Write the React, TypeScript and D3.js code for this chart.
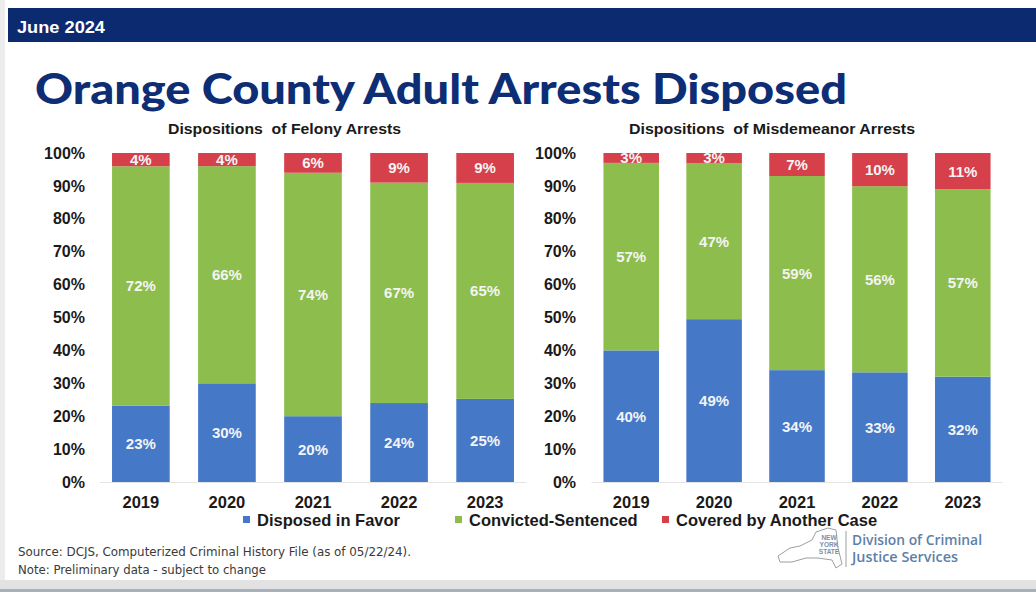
import { useEffect, useRef } from 'react';
import * as d3 from 'd3';

const years = ['2019', '2020', '2021', '2022', '2023'];
const series = ['Disposed in Favor', 'Convicted-Sentenced', 'Covered by Another Case'];
const colors = ['#4579C8', '#8DBE4D', '#D5404A'];

const felonyFavor = [23, 30, 20, 24, 25];
const felonyConvicted = [72, 66, 74, 67, 65];
const felonyCovered = [4, 4, 6, 9, 9];

const misdFavor = [40, 49, 34, 33, 32];
const misdConvicted = [57, 47, 59, 56, 57];
const misdCovered = [3, 3, 7, 10, 11];

const yTicks = [0, 0.1, 0.2, 0.3, 0.4, 0.5, 0.6, 0.7, 0.8, 0.9, 1];

const W = 1036;
const H = 592;
const FONT = 'Arial, "Liberation Sans", sans-serif';

type Panel = {
  title: string;
  values: number[][];
  range: [number, number];
  axisX: number;
  titleX: number;
  titleW: number;
};

const panels: Panel[] = [
  {
    title: 'Dispositions  of Felony Arrests',
    values: [felonyFavor, felonyConvicted, felonyCovered],
    range: [69, 557],
    axisX: 85,
    titleX: 168,
    titleW: 233,
  },
  {
    title: 'Dispositions  of Misdemeanor Arrests',
    values: [misdFavor, misdConvicted, misdCovered],
    range: [562, 1032],
    axisX: 576,
    titleX: 629,
    titleW: 286,
  },
];

export default function App() {
  const svgRef = useRef<SVGSVGElement>(null);

  useEffect(() => {
    if (!svgRef.current) return;
    const svg = d3.select(svgRef.current);
    svg.selectAll('*').remove();

    svg.append('rect').attr('width', W).attr('height', H).attr('fill', '#fff');
    // left edge and bottom frame of the slide
    svg.append('rect').attr('x', 0).attr('y', 0).attr('width', 5).attr('height', H).attr('fill', '#ececec');
    svg.append('rect').attr('x', 0).attr('y', 580).attr('width', W).attr('height', 12).attr('fill', '#e2e2e2');
    svg.append('rect').attr('x', 0).attr('y', 589).attr('width', W).attr('height', 3).attr('fill', '#a7b0bd');

    // header band
    svg.append('rect').attr('x', 8).attr('y', 8).attr('width', W - 8).attr('height', 34).attr('fill', '#0B2A70');
    svg.append('text')
      .attr('x', 17).attr('y', 33)
      .attr('fill', '#fff').attr('font-family', FONT).attr('font-weight', 700).attr('font-size', 16)
      .attr('textLength', 88).attr('lengthAdjust', 'spacingAndGlyphs')
      .text('June 2024');

    svg.append('text')
      .attr('x', 35).attr('y', 104)
      .attr('fill', '#0D2D75').attr('font-family', 'Lato, "Open Sans", sans-serif').attr('font-weight', 900)
      .attr('font-size', 42).attr('textLength', 812).attr('lengthAdjust', 'spacingAndGlyphs')
      .text('Orange County Adult Arrests Disposed');

    const y = d3.scaleLinear().domain([0, 1]).range([482, 153]);

    for (const p of panels) {
      const x = d3.scaleBand<string>().domain(years).range(p.range).paddingInner(0.33).paddingOuter(0.5);
      const g = svg.append('g');

      g.append('text')
        .attr('x', p.titleX).attr('y', 134)
        .attr('fill', '#1a1a1a').attr('font-family', FONT).attr('font-weight', 700).attr('font-size', 15.5)
        .attr('textLength', p.titleW).attr('lengthAdjust', 'spacingAndGlyphs')
        .style('white-space', 'pre')
        .text(p.title);

      g.append('g')
        .attr('transform', `translate(${p.axisX},0)`)
        .call(d3.axisLeft(y).tickValues(yTicks).tickSize(0).tickPadding(0).tickFormat(d3.format('.0%')))
        .call((a) => a.select('.domain').remove())
        .call((a) => a.selectAll('text').attr('fill', '#1a1a1a').attr('font-family', FONT).attr('font-weight', 700).style('font-size', '16px'));

      // baseline
      const x0 = (x(years[0]) ?? 0) - 12;
      const x1 = (x(years[years.length - 1]) ?? 0) + x.bandwidth() + 12;
      g.append('line').attr('x1', x0).attr('x2', x1).attr('y1', 482.5).attr('y2', 482.5).attr('stroke', '#e4e4e4');

      g.append('g')
        .attr('transform', 'translate(0,492)')
        .call(d3.axisBottom(x).tickSize(0).tickPadding(4))
        .call((a) => a.select('.domain').remove())
        .call((a) => a.selectAll('text').attr('fill', '#1a1a1a').attr('font-family', FONT).attr('font-weight', 700).style('font-size', '16.5px'));

      years.forEach((yr, i) => {
        const total = p.values.reduce((s, v) => s + v[i], 0);
        let acc = 0;
        p.values.forEach((v, si) => {
          const y0 = acc / total;
          acc += v[i];
          const y1 = acc / total;
          g.append('rect')
            .attr('x', x(yr) ?? 0).attr('width', x.bandwidth())
            .attr('y', y(y1)).attr('height', y(y0) - y(y1))
            .attr('fill', colors[si]);
          g.append('text')
            .attr('x', (x(yr) ?? 0) + x.bandwidth() / 2)
            .attr('y', (y(y0) + y(y1)) / 2 + 5.5)
            .attr('text-anchor', 'middle')
            .attr('fill', '#f4f4f4').attr('font-family', FONT).attr('font-weight', 700).attr('font-size', 15)
            .text(`${v[i]}%`);
        });
      });
    }

    // legend
    const legendX = [243, 455, 662];
    series.forEach((s, i) => {
      svg.append('rect').attr('x', legendX[i]).attr('y', 516).attr('width', 7).attr('height', 7).attr('fill', colors[i]);
      svg.append('text')
        .attr('x', legendX[i] + 14).attr('y', 526)
        .attr('fill', '#1a1a1a').attr('font-family', FONT).attr('font-weight', 700).attr('font-size', 16.5)
        .text(s);
    });

    // footer
    const foot = svg.append('g').attr('fill', '#3a3a3a').attr('font-family', '"Liberation Sans Narrow", "DejaVu Sans Condensed", Arial, sans-serif').attr('font-size', 12);
    foot.append('text').attr('x', 18).attr('y', 556).attr('textLength', 393).attr('lengthAdjust', 'spacingAndGlyphs')
      .text('Source: DCJS, Computerized Criminal History File (as of 05/22/24).');
    foot.append('text').attr('x', 18).attr('y', 574).attr('textLength', 248).attr('lengthAdjust', 'spacingAndGlyphs')
      .text('Note: Preliminary data - subject to change');

    // agency logo
    const logo = svg.append('g');
    logo.append('path')
      .attr('d', 'M778,556 L790,548 L800,546 L812,540 L816,532 L828,528 L836,530 L838,548 L842,564 L836,568 L832,560 L818,558 L806,558 L792,562 L780,562 Z')
      .attr('fill', 'none').attr('stroke', '#9aa0a6').attr('stroke-width', 1);
    const ny = logo.append('g').attr('fill', '#7a8fb0').attr('font-family', FONT).attr('font-weight', 700).attr('font-size', 6.5).attr('text-anchor', 'middle');
    ny.append('text').attr('x', 829).attr('y', 540).text('NEW');
    ny.append('text').attr('x', 829).attr('y', 547).text('YORK');
    ny.append('text').attr('x', 829).attr('y', 554).text('STATE');
    logo.append('line').attr('x1', 846).attr('x2', 846).attr('y1', 531).attr('y2', 567).attr('stroke', '#9aa0a6');
    const dcjs = logo.append('g').attr('fill', '#5E80A8').attr('font-family', '"Open Sans", sans-serif').attr('font-weight', 600).attr('font-size', 14);
    dcjs.append('text').attr('x', 852).attr('y', 545).attr('textLength', 130).attr('lengthAdjust', 'spacingAndGlyphs').text('Division of Criminal');
    dcjs.append('text').attr('x', 852).attr('y', 562).attr('textLength', 106).attr('lengthAdjust', 'spacingAndGlyphs').text('Justice Services');
  }, []);

  return (
    <svg
      ref={svgRef}
      width={W}
      height={H}
      style={{ position: 'absolute', left: 0, top: 0, display: 'block' }}
    />
  );
}
